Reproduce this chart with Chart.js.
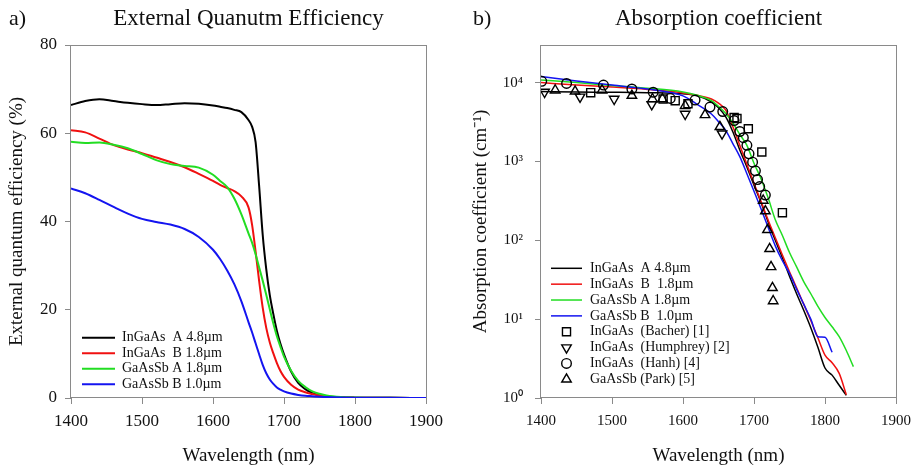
<!DOCTYPE html>
<html>
<head>
<meta charset="utf-8">
<script src="https://cdn.jsdelivr.net/npm/chart.js@4.4.0/dist/chart.umd.min.js"></script>
<style>
body{margin:0;background:#fff;width:911px;height:469px;overflow:hidden;position:relative;font-family:"Liberation Serif",serif;color:#111}
canvas{position:absolute;top:0}
#c1{left:0}
#c2{left:455px}
.lbl{position:absolute;font-size:22px;line-height:23px;top:6px}
.ttl{position:absolute;font-size:23px;line-height:23px;top:6px;text-align:center}
</style>
</head>
<body>
<canvas id="c1" width="455" height="469"></canvas>
<canvas id="c2" width="456" height="469"></canvas>
<div class="lbl" style="left:9px">a)</div>
<div class="ttl" style="left:71px;width:355px">External Quanutm Efficiency</div>
<div class="lbl" style="left:473px">b)</div>
<div class="ttl" style="left:541px;width:355px">Absorption coefficient</div>
<script>
// ---- a) external quantum efficiency (%) ----
var eqeWl = [1400,1420,1440,1460,1480,1500,1520,1540,1560,1580,1600,1610,1620,1630,1640,1650,1655,1660,1665,1670,
             1675,1680,1685,1690,1695,1700,1710,1720,1730,1740,1750,1760,1780,1800,1850,1900];
var eqeInGaAsA = [66.4,67.3,67.7,67.3,66.9,66.6,66.4,66.6,66.8,66.7,66.3,66.0,65.7,65.3,64.8,63.0,61.5,58.0,48.0,37.0,
                  29.2,23.3,19.0,15.2,12.3,9.9,6.0,3.4,2.0,1.1,0.6,0.35,0.15,0.08,0.03,0.02];
var eqeInGaAsB = [60.7,60.2,58.8,57.3,56.3,55.5,54.5,53.5,52.3,50.8,49.2,48.3,47.6,46.9,45.7,43.2,39.3,33.2,26.5,20.5,
                  15.9,12.6,10.1,7.9,6.1,4.8,3.0,1.9,1.3,0.9,0.55,0.35,0.15,0.08,0.03,0.02];
var eqeGaAsSbA = [58.1,57.8,57.9,57.4,56.6,55.3,53.9,53.0,52.6,52.2,50.6,49.2,47.8,45.2,41.6,37.3,35.2,32.6,29.6,26.6,
                  23.4,20.1,16.9,14.0,11.6,9.4,6.2,3.9,2.5,1.5,0.95,0.55,0.2,0.1,0.04,0.02];
var eqeGaAsSbB = [47.5,46.4,44.9,43.3,41.8,40.6,39.9,39.3,38.3,36.5,33.6,31.5,28.9,25.8,21.9,17.2,14.9,12.4,9.9,7.5,
                  5.6,4.2,3.2,2.4,1.9,1.5,1.0,0.7,0.5,0.4,0.3,0.22,0.13,0.08,0.04,0.02];
var eqeLabels = ['InGaAs  A 4.8\u00b5m','InGaAs  B 1.8\u00b5m','GaAsSb A 1.8\u00b5m','GaAsSb B 1.0\u00b5m'];

// ---- b) absorption coefficient (cm-1) ----
var absWl = [1400,1450,1500,1550,1600,1620,1640,1650,1660,1670,1680,1690,1700,1710,1720,1730,1740,1750,1760,1770,
             1780,1790,1800,1810,1820,1830,1840];
var absInGaAsA = [7700,7600,7550,7450,7200,6800,5700,4800,3700,2400,1400,850,500,300,170,100,60,35,21,13,
                  7.8,4.4,2.4,1.95,1.45,1.08,null];
var absInGaAsB = [10000,9300,8800,8200,7400,6900,6200,5500,4500,2800,1600,920,530,310,180,108,65,40,25,15.5,
                  9.6,5.8,3.5,2.8,2.05,1.1,null];
var absGaAsSbA = [10800,10000,9200,8500,7600,6900,5900,5000,4100,3100,2200,1600,950,600,343,182,115,70,46,30,
                  21,14.5,10.5,8,6,4,2.5];
var absGaAsSbB = [12000,10500,9300,8300,6800,5300,4000,3200,2500,1700,1150,700,420,250,145,85,55,38,24,15.5,
                  10,6.0,5.9,3.8,null,null,null];
var bacherWl = [1470,1572,1589,1607,1672,1676,1692,1711,1740];
var bacherAbs = [7450,6200,5900,5400,3600,3500,2600,1320,224];
var humphreyWl = [1405,1455,1503,1556,1603,1655];
var humphreyAbs = [7600,6600,6200,5300,4000,2250];
var hanhWl = [1401,1436,1488,1528,1558,1582,1617,1638,1656,1672,1680,1685,1690,1693,1698,1702,1705,1708,1716];
var hanhAbs = [10400,9750,9300,8300,7550,6300,6000,4900,4300,3300,2400,2000,1600,1250,980,760,590,480,375];
var parkWl = [1420,1448,1486,1528,1557,1571,1603,1631,1652,1713,1716,1719,1722,1724,1726,1727];
var parkAbs = [8000,7760,8000,6850,6200,6200,5100,3900,2750,320,235,136,78,46,25,17];
var absLabels = ['InGaAs  A 4.8\u00b5m','InGaAs  B  1.8\u00b5m','GaAsSb A 1.8\u00b5m','GaAsSb B  1.0\u00b5m',
                 'InGaAs  (Bacher) [1]','InGaAs  (Humphrey) [2]','InGaAs  (Hanh) [4]','GaAsSb (Park) [5]'];
var absTicks = [1,10,100,1000,10000];
var absTickLabels = ['10\u2070','10\u00b9','10\u00b2','10\u00b3','10\u2074'];

var wlTicks = [1400,1500,1600,1700,1800,1900];

function pts(xs, ys) {
    var out = [];
    for (var i = 0; i < xs.length; i++) {
        if (ys[i] !== null) out.push({x: xs[i], y: ys[i]});
    }
    return out;
}

Chart.defaults.font.family = '"Liberation Serif", "Times New Roman", serif';
Chart.defaults.color = '#111';

var frame = {
    id: 'frame',
    beforeDatasetsDraw: function(chart) {
        var ctx = chart.ctx, a = chart.chartArea;
        ctx.save();
        ctx.strokeStyle = '#8a8a8a';
        ctx.lineWidth = 1;
        ctx.strokeRect(Math.round(a.left) - 0.5, Math.round(a.top) + 0.5,
                       Math.round(a.right - a.left) + 1, Math.round(a.bottom - a.top) - 1);
        ctx.restore();
    }
};

var legendBox = {
    id: 'legendBox',
    afterDatasetsDraw: function(chart, args, o) {
        var ctx = chart.ctx, a = chart.chartArea;
        ctx.save();
        ctx.font = o.font;
        ctx.textBaseline = 'middle';
        for (var i = 0; i < o.labels.length; i++) {
            var ds = chart.data.datasets[i];
            var y = a.top + o.top + i * o.row;
            var x = a.left + o.left;
            if (ds.pointRadius === 0) {
                ctx.strokeStyle = ds.borderColor;
                ctx.lineWidth = ds.borderWidth;
                ctx.beginPath();
                ctx.moveTo(x, y);
                ctx.lineTo(x + o.line, y);
                ctx.stroke();
            } else {
                ctx.strokeStyle = '#000';
                ctx.fillStyle = 'rgba(0,0,0,0)';
                ctx.lineWidth = ds.borderWidth;
                Chart.helpers.drawPoint(ctx, {pointStyle: ds.pointStyle, rotation: ds.rotation || 0,
                    radius: ds.pointRadius, borderWidth: ds.borderWidth}, x + o.line / 2, y);
            }
            ctx.fillStyle = '#111';
            ctx.fillText(o.labels[i], x + o.text, y);
        }
        ctx.restore();
    }
};

function lineSet(label, xs, ys, color, w, order) {
    return {label: label, data: pts(xs, ys), showLine: true, borderColor: color, backgroundColor: color,
            borderWidth: w, pointRadius: 0, cubicInterpolationMode: 'monotone', order: order};
}
function markSet(label, xs, ys, style, r, rot) {
    return {label: label, data: pts(xs, ys), showLine: false, pointStyle: style, pointRadius: r,
            rotation: rot, borderWidth: 1.4, borderColor: '#000', backgroundColor: 'rgba(0,0,0,0)', order: 0};
}

function xAxis(fontSize, pad) {
    return {
        type: 'linear', min: 1400, max: 1900,
        afterBuildTicks: function(s) { s.ticks = wlTicks.map(function(v) { return {value: v}; }); },
        afterFit: function(s) { s.height = 71; s.paddingLeft = 0; s.paddingRight = 0; },
        border: {display: false},
        grid: {drawOnChartArea: false, drawTicks: true, tickLength: 6, color: '#8a8a8a'},
        ticks: {font: {size: fontSize}, padding: pad, maxRotation: 0, autoSkip: false, color: '#111',
                callback: function(v) { return String(v); }},
        title: {display: true, text: 'Wavelength (nm)', font: {size: 19}, padding: {top: 0, bottom: 2}, color: '#111'}
    };
}

new Chart(document.getElementById('c1'), {
    type: 'scatter',
    data: {datasets: [
        lineSet(eqeLabels[0], eqeWl, eqeInGaAsA, '#000000', 2, 4),
        lineSet(eqeLabels[1], eqeWl, eqeInGaAsB, '#f01010', 2, 3),
        lineSet(eqeLabels[2], eqeWl, eqeGaAsSbA, '#22dd22', 2, 2),
        lineSet(eqeLabels[3], eqeWl, eqeGaAsSbB, '#1414f0', 2, 1)
    ]},
    options: {
        responsive: false, animation: false, devicePixelRatio: 1,
        layout: {padding: {top: 45, right: 29, bottom: 0, left: 0}},
        plugins: {
            legend: {display: false}, tooltip: {enabled: false},
            legendBox: {labels: eqeLabels, font: '14px "Liberation Serif"', left: 11, top: 292.7, row: 15.5, line: 33, text: 40}
        },
        scales: {
            x: xAxis(17, 7),
            y: {
                type: 'linear', min: 0, max: 80,
                ticks: {stepSize: 20, font: {size: 17}, padding: 8, color: '#111'},
                afterFit: function(s) { s.width = 71; s.paddingTop = 0; s.paddingBottom = 0; },
                border: {display: false},
                grid: {drawOnChartArea: false, drawTicks: true, tickLength: 6, color: '#8a8a8a'},
                title: {display: true, text: 'External quantum efficiency (%)', font: {size: 19}, padding: {top: 6, bottom: 0}, color: '#111'}
            }
        }
    },
    plugins: [frame, legendBox]
});

new Chart(document.getElementById('c2'), {
    type: 'scatter',
    data: {datasets: [
        lineSet(absLabels[0], absWl, absInGaAsA, '#000000', 1.5, 4),
        lineSet(absLabels[1], absWl, absInGaAsB, '#f01010', 1.5, 3),
        lineSet(absLabels[2], absWl, absGaAsSbA, '#22dd22', 1.5, 2),
        lineSet(absLabels[3], absWl, absGaAsSbB, '#1414f0', 1.5, 1),
        markSet(absLabels[4], bacherWl, bacherAbs, 'rect', 5.7, 0),
        markSet(absLabels[5], humphreyWl, humphreyAbs, 'triangle', 5.5, 180),
        markSet(absLabels[6], hanhWl, hanhAbs, 'circle', 4.8, 0),
        markSet(absLabels[7], parkWl, parkAbs, 'triangle', 5.5, 0)
    ]},
    options: {
        responsive: false, animation: false, devicePixelRatio: 1,
        layout: {padding: {top: 45, right: 15, bottom: 0, left: 0}},
        plugins: {
            legend: {display: false}, tooltip: {enabled: false},
            legendBox: {labels: absLabels, font: '14px "Liberation Serif"', left: 10, top: 223.3, row: 15.86, line: 31, text: 39}
        },
        scales: {
            x: xAxis(15, 8),
            y: {
                type: 'logarithmic', min: 1, max: 30000,
                afterBuildTicks: function(s) { s.ticks = absTicks.map(function(v) { return {value: v, major: true}; }); },
                ticks: {
                    font: {size: 15}, padding: 12, color: '#111',
                    callback: function(v) { var k = absTicks.indexOf(v); return k < 0 ? '' : absTickLabels[k]; }
                },
                afterFit: function(s) { s.width = 86; s.paddingTop = 0; s.paddingBottom = 0; },
                border: {display: false},
                grid: {drawOnChartArea: false, drawTicks: true, tickLength: 6, color: '#8a8a8a'},
                title: {display: true, text: 'Absorption coefficient (cm\u207b\u00b9)', font: {size: 19}, padding: {top: 15, bottom: 0}, color: '#111'}
            }
        }
    },
    plugins: [frame, legendBox]
});
</script>
</body>
</html>
